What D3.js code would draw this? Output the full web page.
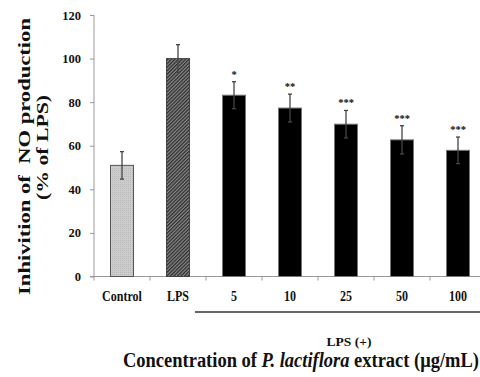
<!DOCTYPE html>
<html>
<head>
<meta charset="utf-8">
<script src="https://cdn.jsdelivr.net/npm/d3@7"></script>
<style>
  html, body { margin: 0; padding: 0; background: #fff; }
  svg { display: block; }
  text { font-family: "Liberation Serif", "Times New Roman", serif; font-weight: bold; fill: #111; }
</style>
</head>
<body>
<div id="chart"></div>
<script>
// values
const categories = ["Control", "LPS", "5", "10", "25", "50", "100"]
const values = [51, 100, 83.2, 77.3, 69.9, 62.7, 57.9]
const errors = [6.3, 6.4, 6.2, 6.4, 6.3, 6.5, 6.1]
const stars = ["", "", "*", "**", "***", "***", "***"]
const yTicks = [0, 20, 40, 60, 80, 100, 120]

const W = 480, H = 377
const x0 = 94, step = 56, barW = 23
const squeeze = 0.8   // the source picture is squashed sideways

const svg = d3.select("#chart").append("svg")
  .attr("width", W).attr("height", H)

const defs = svg.append("defs")
const dots = defs.append("pattern")
  .attr("id", "dots").attr("patternUnits", "userSpaceOnUse")
  .attr("width", 2).attr("height", 2)
dots.append("rect").attr("width", 2).attr("height", 2).attr("fill", "#cdcdcd")
dots.append("rect").attr("width", 1).attr("height", 1).attr("fill", "#b8b8b8")

const hatch = defs.append("pattern")
  .attr("id", "hatch").attr("patternUnits", "userSpaceOnUse")
  .attr("width", 2.5).attr("height", 2.5)
  .attr("patternTransform", "rotate(45)")
hatch.append("rect").attr("width", 2.5).attr("height", 2.5).attr("fill", "#8a8a8a")
hatch.append("rect").attr("width", 1.3).attr("height", 2.5).attr("fill", "#2e2e2e")

const x = d3.scaleBand()
  .domain(categories)
  .range([x0, x0 + step * categories.length])
  .padding(0)

const y = d3.scaleLinear()
  .domain([0, 120])
  .range([276.5, 15])

const fills = ["url(#dots)", "url(#hatch)", "#000", "#000", "#000", "#000", "#000"]
const strokes = ["#555", "#444", "#777", "#777", "#777", "#777", "#777"]

// y axis
const yAxis = svg.append("g")
  .attr("transform", `translate(${x0},0)`)
  .call(d3.axisLeft(y).tickValues(yTicks).tickSize(4).tickPadding(9))
yAxis.selectAll("path, line").attr("stroke", "#999")
yAxis.select(".domain").attr("d", `M0,${y(120)}V${y(0)}`)
yAxis.selectAll("text")
  .attr("font-family", "Liberation Serif").attr("font-weight", "bold")
  .attr("font-size", 12.5).attr("fill", "#111")

// x axis line + ticks at band edges
svg.append("line")
  .attr("x1", x0 - 4).attr("x2", W)
  .attr("y1", y(0)).attr("y2", y(0))
  .attr("stroke", "#999")
svg.selectAll(".xtick")
  .data(categories)
  .enter().append("line")
  .attr("class", "xtick")
  .attr("x1", d => x(d)).attr("x2", d => x(d))
  .attr("y1", y(0)).attr("y2", y(0) + 4)
  .attr("stroke", "#999")

// bars
svg.selectAll(".bar")
  .data(categories)
  .enter().append("rect")
  .attr("class", "bar")
  .attr("x", d => x(d) + (x.bandwidth() - barW) / 2)
  .attr("y", (d, i) => y(values[i]))
  .attr("width", barW)
  .attr("height", (d, i) => y(0) - y(values[i]))
  .attr("fill", (d, i) => fills[i])
  .attr("stroke", (d, i) => strokes[i])
  .attr("stroke-width", 1)

// error bars
const err = svg.selectAll(".err")
  .data(categories)
  .enter().append("g")
  .attr("class", "err")
  .attr("stroke", "#444")
  .attr("stroke-width", 1.3)
err.append("line")
  .attr("x1", d => x(d) + x.bandwidth() / 2)
  .attr("x2", d => x(d) + x.bandwidth() / 2)
  .attr("y1", (d, i) => y(values[i] + errors[i]))
  .attr("y2", (d, i) => y(values[i] - errors[i]))
err.append("line")
  .attr("x1", d => x(d) + x.bandwidth() / 2 - 2)
  .attr("x2", d => x(d) + x.bandwidth() / 2 + 2)
  .attr("y1", (d, i) => y(values[i] + errors[i]))
  .attr("y2", (d, i) => y(values[i] + errors[i]))
err.append("line")
  .attr("x1", d => x(d) + x.bandwidth() / 2 - 2)
  .attr("x2", d => x(d) + x.bandwidth() / 2 + 2)
  .attr("y1", (d, i) => y(values[i] - errors[i]))
  .attr("y2", (d, i) => y(values[i] - errors[i]))

// significance marks
svg.selectAll(".star")
  .data(categories)
  .enter().append("text")
  .attr("class", "star")
  .attr("text-anchor", "middle")
  .attr("font-size", 10.5)
  .attr("fill", "#333")
  .attr("x", d => x(d) + x.bandwidth() / 2)
  .attr("y", (d, i) => y(values[i] + errors[i]) - 4)
  .text((d, i) => stars[i])

// category labels
svg.selectAll(".cat")
  .data(categories)
  .enter().append("text")
  .attr("class", "cat")
  .attr("text-anchor", "middle")
  .attr("font-size", 15)
  .attr("transform", d => `translate(${x(d) + x.bandwidth() / 2},300.5) scale(${squeeze},1)`)
  .text(d => d)

// LPS (+) bracket line
svg.append("line")
  .attr("x1", x(categories[2]) - 11).attr("x2", W)
  .attr("y1", 312).attr("y2", 312)
  .attr("stroke", "#666").attr("stroke-width", 1.8)
svg.append("text")
  .attr("text-anchor", "middle")
  .attr("x", 349).attr("y", 346)
  .style("font-size", "13.5px")
  .text("LPS (+)")

// x title, stretched to the width it has in the figure
const xt = svg.append("text")
  .style("font-size", "20px")
xt.append("tspan").text("Concentration of ")
xt.append("tspan").attr("font-style", "italic").text("P. lactiflora")
xt.append("tspan").text(" extract (μg/mL)")
const xtw = xt.node().getComputedTextLength()
xt.attr("transform", `translate(123,367) scale(${356 / xtw},1)`)

// y title, two lines
function yTitle(txt, cx, cy, len) {
  const t = svg.append("text")
    .attr("text-anchor", "middle")
    .style("font-size", "17px")
    .style("white-space", "pre")
    .text(txt)
  const w = t.node().getComputedTextLength()
  t.attr("transform", `translate(${cx},${cy}) rotate(-90) scale(${len / w},1)`)
}
yTitle("Inhivition of  NO production", 30, 156.5, 277)
yTitle("(% of LPS)", 48, 147.5, 105)
</script>
</body>
</html>
